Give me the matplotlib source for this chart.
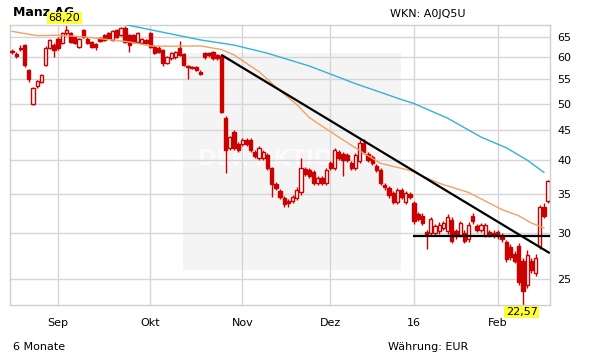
import matplotlib
matplotlib.use("Agg")
import matplotlib.pyplot as plt
from matplotlib.patches import Rectangle
from matplotlib.ticker import FixedLocator, NullLocator

# Tageskerzen (Handelstage, Index 0 = erster Tag im Chart)
opens = [61.5, 60.9, 62.3, 63.0, 57.1, 50.0, 53.5, 54.5, 58.3, 62.4,
         63.0, 64.6, 63.5, 66.1, 66.1, 65.0, 62.5, 66.8, 64.6, 63.7,
         63.2, 64.8, 65.5, 66.1, 64.3, 66.8, 65.5, 67.4, 65.5, 65.5,
         63.7, 63.5, 64.3, 66.1, 62.6, 62.4, 61.8, 58.7, 59.8, 60.0,
         62.4, 60.8, 57.9, 57.8, 57.8, 56.7, 61.0, 61.0, 61.2, 60.6,
         60.4, 47.3, 42.0, 44.7, 42.6, 42.6, 43.3, 43.3, 41.3, 40.3,
         40.3, 40.8, 38.7, 36.4, 35.4, 34.4, 34.0, 34.0, 34.5, 35.2,
         38.6, 38.4, 38.1, 36.6, 37.3, 36.6, 39.5, 38.8, 41.3, 41.0,
         40.8, 39.5, 38.8, 39.8, 42.8, 41.0, 40.5, 39.1, 38.4, 36.3,
         35.8, 35.1, 33.9, 35.5, 33.9, 35.0, 33.8, 32.3, 32.1, 30.1,
         30.0, 30.0, 30.2, 30.6, 30.2, 31.6, 30.2, 29.8, 30.0, 29.3,
         32.1, 30.8, 30.4, 29.8, 30.1, 30.0, 30.1, 29.7, 28.9, 28.4,
         27.6, 28.5, 26.9, 24.4, 26.9, 25.6, 28.5, 33.3, 34.1]
highs = [62.0, 61.2, 63.0, 63.3, 57.4, 53.4, 54.9, 56.3, 62.8, 64.6,
         63.4, 65.0, 66.4, 68.2, 66.4, 65.3, 64.9, 67.1, 65.0, 64.0,
         63.5, 65.1, 65.8, 66.4, 66.8, 67.1, 67.7, 67.8, 65.8, 65.8,
         66.4, 64.9, 64.6, 66.4, 62.9, 62.7, 62.1, 60.3, 61.3, 61.5,
         64.0, 61.1, 58.2, 58.1, 58.1, 57.0, 61.3, 61.3, 61.5, 60.9,
         60.8, 47.6, 44.0, 45.0, 42.9, 43.6, 43.6, 43.6, 41.6, 42.3,
         41.6, 41.1, 39.0, 36.7, 35.7, 34.7, 34.3, 34.9, 35.9, 40.3,
         38.9, 38.7, 38.4, 37.6, 37.6, 38.7, 39.8, 42.0, 41.6, 41.3,
         41.1, 39.8, 41.1, 43.3, 43.5, 41.3, 40.8, 39.4, 38.7, 36.6,
         36.1, 35.4, 35.8, 35.8, 35.4, 35.3, 34.1, 32.6, 32.4, 30.4,
         32.0, 31.1, 31.3, 31.5, 32.3, 31.9, 30.5, 31.5, 30.3, 31.3,
         32.4, 31.1, 31.2, 31.2, 30.4, 30.3, 30.4, 30.0, 29.2, 28.7,
         27.9, 28.8, 27.2, 28.0, 27.2, 27.6, 33.5, 33.8, 37.0]
lows = [60.8, 59.9, 61.5, 57.8, 54.4, 49.8, 53.2, 54.2, 58.0, 62.0,
        60.0, 61.9, 63.2, 65.5, 63.4, 63.2, 62.2, 64.7, 63.2, 62.2,
        61.8, 63.7, 64.0, 64.5, 64.0, 64.7, 65.2, 63.4, 61.3, 63.4,
        63.4, 63.2, 63.2, 62.3, 60.7, 61.0, 58.0, 58.4, 59.5, 59.7,
        60.3, 58.0, 55.0, 57.3, 56.8, 56.0, 59.7, 60.2, 59.5, 59.5,
        48.2, 38.0, 41.7, 41.7, 41.3, 42.3, 42.3, 41.3, 40.3, 40.0,
        40.0, 38.5, 34.6, 35.5, 34.3, 33.3, 33.2, 33.7, 34.2, 34.9,
        37.6, 37.3, 36.3, 36.3, 36.3, 36.3, 38.5, 38.5, 40.0, 37.6,
        39.7, 38.5, 38.5, 39.5, 41.0, 39.7, 39.2, 38.1, 36.3, 35.6,
        34.5, 33.6, 33.6, 34.3, 33.6, 34.3, 31.1, 31.4, 30.9, 28.2,
        29.7, 29.7, 29.9, 30.3, 29.9, 28.8, 29.3, 29.5, 28.8, 29.0,
        31.1, 30.1, 30.1, 29.5, 29.5, 29.4, 29.3, 29.0, 26.8, 27.0,
        26.6, 24.4, 22.57, 24.1, 25.6, 25.3, 28.2, 31.8, 33.8]
closes = [61.2, 60.4, 62.0, 58.3, 55.0, 53.1, 54.6, 56.0, 62.4, 64.3,
          61.8, 62.2, 66.1, 66.8, 63.7, 63.5, 64.6, 65.0, 63.5, 62.5,
          62.6, 64.0, 64.3, 64.8, 66.5, 65.0, 67.4, 63.7, 63.0, 63.7,
          66.1, 64.6, 63.5, 62.6, 61.0, 61.3, 58.7, 60.0, 61.0, 61.2,
          60.6, 58.3, 57.7, 57.6, 57.1, 56.3, 60.0, 60.5, 59.8, 59.8,
          48.4, 41.6, 43.8, 42.0, 41.6, 43.3, 42.6, 41.6, 40.6, 42.0,
          41.3, 38.8, 36.4, 35.8, 34.6, 33.6, 33.8, 34.6, 35.6, 38.8,
          37.9, 37.6, 36.6, 37.3, 36.6, 38.4, 38.8, 41.6, 40.3, 40.0,
          40.0, 38.8, 40.8, 42.8, 41.3, 40.0, 39.5, 38.4, 36.6, 35.9,
          34.8, 33.9, 35.5, 34.6, 35.1, 34.6, 31.4, 31.7, 31.2, 29.7,
          31.7, 30.8, 31.0, 31.2, 32.0, 29.1, 29.6, 31.2, 29.1, 31.0,
          31.4, 30.4, 30.9, 30.9, 29.8, 29.7, 29.6, 29.3, 27.1, 27.3,
          26.9, 24.7, 23.9, 27.5, 25.9, 27.2, 33.2, 32.1, 36.9]

# gleitende Durchschnitte
ma38_idx = [0, 6, 11, 17, 22, 28, 33, 38, 45, 50, 53, 59, 64, 68, 71,
            78, 84, 88, 95, 102, 109, 117, 121, 124, 127]
ma38_val = [66.5, 65.4, 65.5, 65.1, 64.5, 63.8, 62.8, 62.7, 62.8, 61.9,
            60.6, 56.7, 52.6, 49.8, 47.3, 43.8, 41.1, 39.5, 38.4, 36.5,
            35.2, 32.9, 32.1, 31.2, 30.6]
ma100_idx = [27.5, 45, 53, 61, 71, 82, 93, 96, 104, 112, 118, 123, 127]
ma100_val = [68.2, 64.3, 63.0, 61.0, 58.0, 54.1, 50.8, 50.0, 47.2, 43.8,
             42.0, 40.0, 38.1]

# Trendlinien
trend_x = [50, 128.4]
trend_y = [60.6, 27.7]
support_x = [95.8, 128.4]
support_y = [29.6, 29.6]

month_pos = [11, 33, 55, 76, 96, 116]
month_labels = ['Sep', 'Okt', 'Nov', 'Dez', '16', 'Feb']
y_ticks = [25, 30, 35, 40, 45, 50, 55, 60, 65]

RED = '#cc0000'
GRID = '#d6d6d6'

fig = plt.figure(figsize=(6.11, 3.64), dpi=100)
ax = fig.add_axes([10 / 611, 1 - 305 / 364, 540 / 611, 280 / 364])

# Wasserzeichen-Hintergrund
ax.add_patch(Rectangle((0.32, 0.125), 0.404, 0.775, transform=ax.transAxes,
                       fc='#f4f4f4', ec='none', zorder=0.1))
ax.text(0.522, 0.52, 'DER AKTIONÄR', transform=ax.transAxes, ha='center',
        va='center', fontsize=16, fontweight='bold', color='#fbfbfb',
        zorder=0.2)

x = list(range(len(opens)))
ax.vlines(x, lows, highs, color=RED, linewidth=1.0, zorder=2)
for i in x:
    o, c = opens[i], closes[i]
    bottom, height = min(o, c), max(abs(c - o), 0.08)
    fc = RED if c < o else 'white'
    ax.bar(i, height, bottom=bottom, width=0.78, color=fc, edgecolor=RED,
           linewidth=1.0, zorder=3)

ax.plot(ma38_idx, ma38_val, color='#f0a264', linewidth=1.0, zorder=4)
ax.plot(ma100_idx, ma100_val, color='#33b2d6', linewidth=1.0, zorder=4)
ax.plot(trend_x, trend_y, color='black', linewidth=1.6, zorder=5,
        solid_capstyle='butt')
ax.plot(support_x, support_y, color='black', linewidth=1.6, zorder=5,
        solid_capstyle='butt')

ax.set_yscale('log')
ax.set_ylim(min(lows), max(highs))
ax.set_xlim(-0.48, 128.45)
ax.yaxis.set_major_locator(FixedLocator(y_ticks))
ax.yaxis.set_minor_locator(NullLocator())
ax.set_yticklabels([str(t) for t in y_ticks])
ax.yaxis.tick_right()
ax.set_xticks(month_pos)
ax.set_xticklabels(month_labels)
ax.tick_params(axis='both', length=0, labelsize=8, colors='black')
ax.tick_params(axis='y', pad=5)
ax.tick_params(axis='x', pad=9)
ax.grid(True, color=GRID, linewidth=1.0)
ax.set_axisbelow(True)
for s in ax.spines.values():
    s.set_color('#cfcfcf')
    s.set_linewidth(1.0)

# Hoch/Tief-Markierungen
hi = highs.index(max(highs))
lo = lows.index(min(lows))
ax.annotate(f"{max(highs):.2f}".replace('.', ','), xy=(hi - 0.5, max(highs)),
            xytext=(0, 1.5), textcoords='offset points', ha='center',
            va='bottom', fontsize=8, annotation_clip=False, zorder=6,
            bbox=dict(boxstyle='square,pad=0.12', fc='#ffff33', ec='none'))
ax.annotate(f"{min(lows):.2f}".replace('.', ','), xy=(lo - 0.3, min(lows)),
            xytext=(0, -1.5), textcoords='offset points', ha='center',
            va='top', fontsize=8, annotation_clip=False, zorder=6,
            bbox=dict(boxstyle='square,pad=0.12', fc='#ffff33', ec='none'))

# Titel liegt wie im Original teilweise unter der Hoch-Markierung
fig.text(13 / 611, 1 - 6 / 364, 'Manz AG', ha='left', va='top',
         fontsize=9, fontweight='bold', zorder=-1)
fig.text(390 / 611, 1 - 9 / 364, 'WKN: A0JQ5U', ha='left', va='top', fontsize=8)
fig.text(13 / 611, 1 - 342 / 364, '6 Monate', ha='left', va='top', fontsize=8)
fig.text(388 / 611, 1 - 342 / 364, 'Währung: EUR', ha='left', va='top',
         fontsize=8)

fig.savefig('out.png', dpi=100, facecolor='white')
